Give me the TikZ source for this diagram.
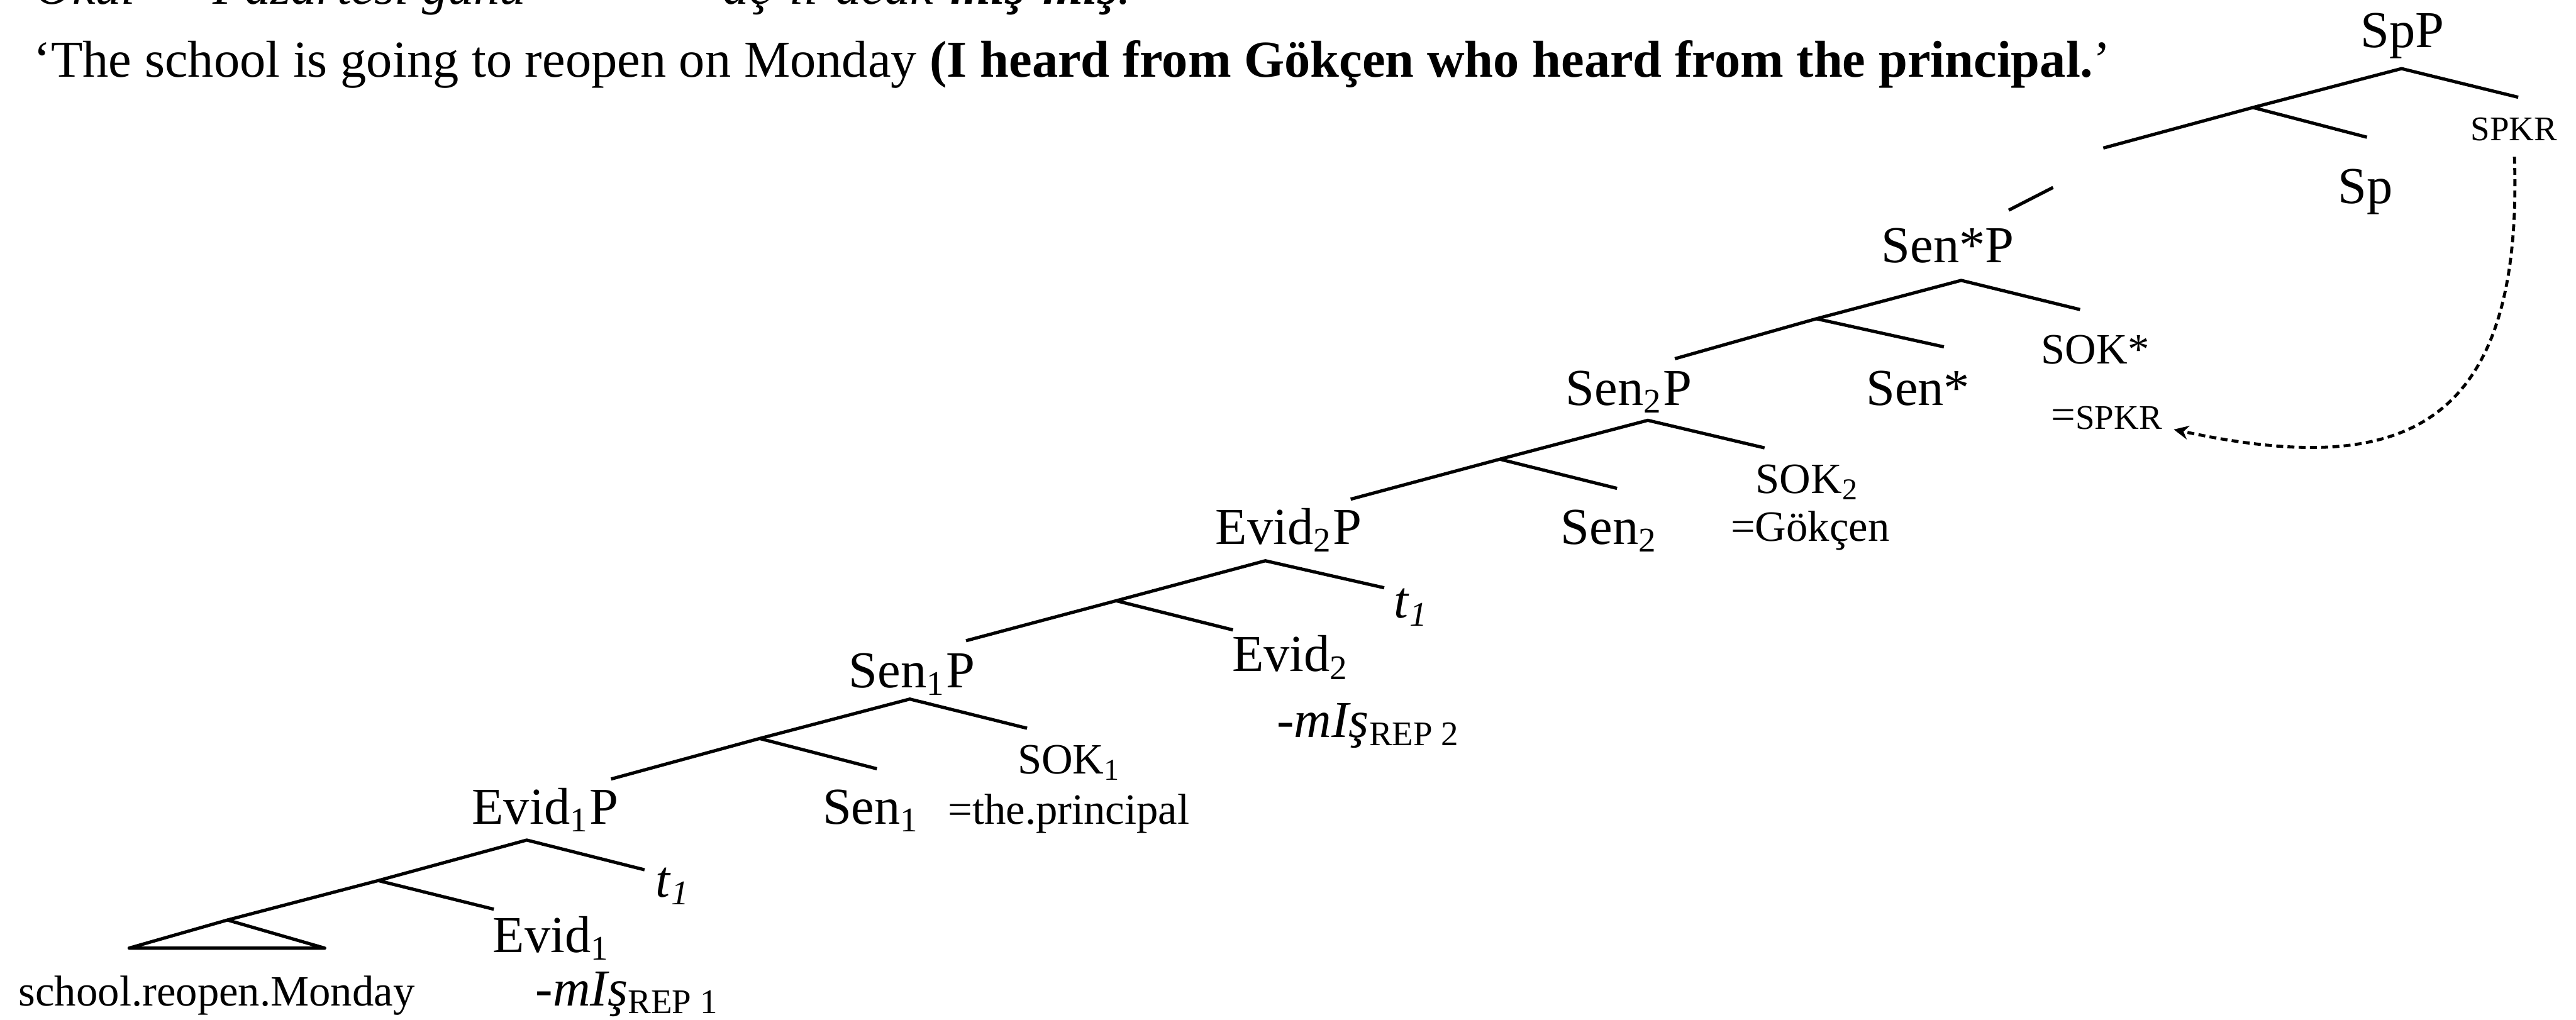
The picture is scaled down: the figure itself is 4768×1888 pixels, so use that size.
\documentclass[tikz,border=0pt]{standalone}
\usepackage{fontspec}
\setmainfont{Liberation Serif}
\usetikzlibrary{arrows.meta}

\newcommand{\bigfont}{\fontsize{12}{14}\selectfont}
\newcommand{\midfont}{\fontsize{10}{12}\selectfont}
\newcommand{\tinyfont}{\fontsize{8}{10}\selectfont}
\newcommand{\trace}{\textit{t}\textsubscript{\textit{1}}}
\newcommand{\repmis}[1]{\textit{-mIş}\textsubscript{REP #1}}

\tikzset{
    lbl/.style={anchor=base, inner sep=0pt, font=\bigfont},
    lblw/.style={lbl, anchor=base west},
    branch/.style={line width=0.75pt, line join=round},
    spkrlink/.style={line width=0.7pt, dash pattern=on 1.6pt off 1pt,
        -{Stealth[length=3.4pt, width=3.2pt]}}
}

\begin{document}
\begin{tikzpicture}[
            x={(0.125pt,0pt)},
            y={(0pt,-0.125pt)}
        ]
        \path[use as bounding box] (0,0) rectangle (4768,1888);
        \clip (0,0) rectangle (4768,1888);

        \node[lblw] (okul) at (63,8) {\textit{Okul}};
        \node[lblw] (pazar) at (393,8) {\textit{Pazartesi günü}};
        \node[lblw] (verb) at (1337,8) {\textit{aç-ıl-acak-\textbf{mış-mış}.}};
        \node[lblw] (gloss) at (61,143)
            {‘The school is going to reopen on Monday \textbf{(I heard from Gökçen who heard from the principal.}’};

        \coordinate (T1) at (4445,127);
        \coordinate (R1) at (4661,180);
        \coordinate (M1) at (4170,199);
        \coordinate (L1) at (3893,274);
        \coordinate (H1) at (4381,254);
        \coordinate (G1) at (3800,347);
        \coordinate (G2) at (3718,389);

        \coordinate (T2) at (3630,519);
        \coordinate (R2) at (3850,573);
        \coordinate (M2) at (3362,590);
        \coordinate (L2) at (3100,664);
        \coordinate (H2) at (3598,642);

        \coordinate (T3) at (3050,778);
        \coordinate (R3) at (3266,829);
        \coordinate (M3) at (2776,850);
        \coordinate (L3) at (2500,924);
        \coordinate (H3) at (2993,904);

        \coordinate (T4) at (2342,1038);
        \coordinate (R4) at (2562,1088);
        \coordinate (M4) at (2066,1112);
        \coordinate (L4) at (1788,1186);
        \coordinate (H4) at (2282,1166);

        \coordinate (T5) at (1684,1294);
        \coordinate (R5) at (1901,1348);
        \coordinate (M5) at (1406,1367);
        \coordinate (L5) at (1131,1442);
        \coordinate (H5) at (1623,1423);

        \coordinate (T6) at (975,1555);
        \coordinate (R6) at (1193,1610);
        \coordinate (M6) at (700,1630);
        \coordinate (L6) at (421,1703);
        \coordinate (H6) at (914,1683);
        \coordinate (B1) at (239,1755);
        \coordinate (B2) at (601,1755);

        \draw[branch] (L1) -- (M1) -- (T1) -- (R1);
        \draw[branch] (M1) -- (H1);
        \draw[branch] (G1) -- (G2);
        \draw[branch] (L2) -- (M2) -- (T2) -- (R2);
        \draw[branch] (M2) -- (H2);
        \draw[branch] (L3) -- (M3) -- (T3) -- (R3);
        \draw[branch] (M3) -- (H3);
        \draw[branch] (L4) -- (M4) -- (T4) -- (R4);
        \draw[branch] (M4) -- (H4);
        \draw[branch] (L5) -- (M5) -- (T5) -- (R5);
        \draw[branch] (M5) -- (H5);
        \draw[branch] (L6) -- (M6) -- (T6) -- (R6);
        \draw[branch] (M6) -- (H6);
        \draw[branch] (L6) -- (B1) -- (B2) -- cycle;

        \node[lbl] (spp) at (4447,88) {SpP};
        \node[lbl] (sp) at (4378,376) {Sp};
        \node[lbl, font=\tinyfont] (spkr) at (4653,260) {SPKR};

        \node[lbl] (senstarp) at (3605,486) {Sen*P};
        \node[lbl] (senstar) at (3550,750) {Sen*};
        \node[lbl, font=\midfont] (sokstar) at (3878,673) {SOK*};
        \node[lblw] (eqspkr) at (3795,795) {\midfont =\tinyfont SPKR};

        \node[lbl] (sentwop) at (3015,750) {Sen\textsubscript{2}P};
        \node[lblw] (sentwo) at (2887,1007) {Sen\textsubscript{2}};
        \node[lblw, font=\midfont] (soktwo) at (3248,913) {SOK\textsubscript{2}};
        \node[lblw, font=\midfont] (gokcen) at (3202,1002) {=Gökçen};

        \node[lbl] (evidtwop) at (2385,1007) {Evid\textsubscript{2}P};
        \node[lblw] (ttwo) at (2579,1144) {\trace};
        \node[lblw] (evidtwo) at (2279,1243) {Evid\textsubscript{2}};
        \node[lblw] (reptwo) at (2362,1365) {\repmis{2}};

        \node[lbl] (senonep) at (1688,1273) {Sen\textsubscript{1}P};
        \node[lblw, font=\midfont] (sokone) at (1882,1432) {SOK\textsubscript{1}};
        \node[lblw] (senone) at (1521,1525) {Sen\textsubscript{1}};
        \node[lblw, font=\midfont] (principal) at (1753,1525) {=the.principal};

        \node[lbl] (evidonep) at (1009,1525) {Evid\textsubscript{1}P};
        \node[lblw] (tone) at (1212,1660) {\trace};
        \node[lblw] (evidone) at (911,1763) {Evid\textsubscript{1}};
        \node[lblw] (repone) at (990,1862) {\repmis{1}};
        \node[lblw, font=\midfont] (school) at (33,1862) {school.reopen.Monday};

        \draw[spkrlink, shorten <=3.5pt] (spkr.south) .. controls (4672,820) and (4420,880) .. ([xshift=2.5pt]eqspkr.base east);
    \end{tikzpicture}
\end{document}
